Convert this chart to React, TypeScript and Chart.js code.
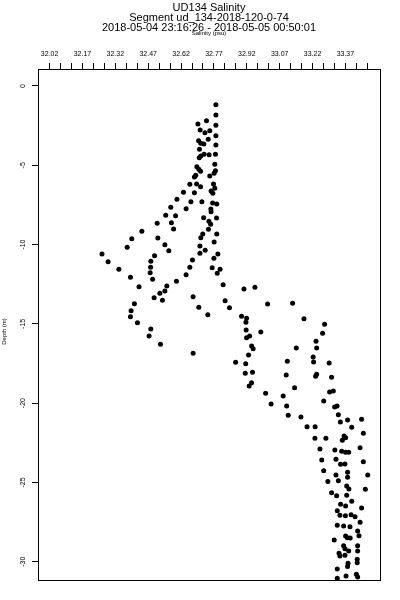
import React, { useEffect, useRef } from 'react';
import { Chart, registerables } from 'chart.js';

Chart.register(...registerables);

const TITLE_LINES = [
  'UD134 Salinity',
  'Segment ud_134-2018-120-0-74',
  '2018-05-04 23:16:26 - 2018-05-05 00:50:01',
];
const X_TITLE = 'Salinity (psu)';
const Y_TITLE = 'Depth (m)';

const X_MIN = 31.967;
const X_MAX = 33.528;
const Y_MIN = -31.154;
const Y_MAX = 1.072;

const X_TICKS = [
  32.02, 32.07, 32.12, 32.17, 32.22, 32.27, 32.32, 32.37, 32.42, 32.47,
  32.52, 32.57, 32.62, 32.67, 32.72, 32.77, 32.82, 32.87, 32.92, 32.97,
  33.02, 33.07, 33.12, 33.17, 33.22, 33.27, 33.32, 33.37, 33.42, 33.47,
];
const X_TICK_LABELS = [
  '32.02', '', '', '32.17', '', '', '32.32', '', '', '32.47',
  '', '', '32.62', '', '', '32.77', '', '', '32.92', '',
  '', '33.07', '', '', '33.22', '', '', '33.37', '', '',
];
const Y_TICKS = [0, -5, -10, -15, -20, -25, -30];
const Y_TICK_LABELS = ['0', '-5', '-10', '-15', '-20', '-25', '-30'];

const salinity = [
  32.779, 32.779, 32.736, 32.697, 32.779, 32.707, 32.729, 32.751, 32.779, 32.744,
  32.700, 32.710, 32.724, 32.779, 32.704, 32.725, 32.748, 32.777, 32.703, 32.710,
  32.774, 32.692, 32.701, 32.709, 32.777, 32.771, 32.687, 32.681, 32.751, 32.660,
  32.691, 32.709, 32.768, 32.774, 32.631, 32.681, 32.757, 32.765, 32.601, 32.665,
  32.715, 32.764, 32.783, 32.573, 32.643, 32.756, 32.757, 32.782, 32.550, 32.595,
  32.723, 32.747, 32.755, 32.511, 32.576, 32.586, 32.745, 32.441, 32.395, 32.514,
  32.783, 32.719, 32.710, 32.771, 32.546, 32.564, 32.374, 32.706, 32.730, 32.706,
  32.788, 32.259, 32.287, 32.499, 32.482, 32.672, 32.770,
  32.336, 32.481, 32.660, 32.762, 32.798, 32.479, 32.643, 32.785, 32.389, 32.490,
  32.599, 32.428, 32.555, 32.812, 32.907, 32.523, 32.546, 32.497, 32.535, 32.675,
  32.821, 32.407, 32.701, 32.841, 32.392, 32.742, 32.389, 32.896, 32.919, 32.916,
  32.421, 32.917, 32.482, 32.474, 32.919, 32.526, 32.675, 32.928, 32.869, 32.915, 32.913,
  32.957, 33.015, 33.129, 33.181, 33.275, 32.984, 33.266, 32.933, 33.236, 32.942,
  32.949, 33.146, 33.239, 33.223, 33.225, 33.105, 33.296, 32.946, 33.100, 33.239,
  33.234, 33.307, 32.942, 32.931, 33.138, 33.298, 33.315, 33.006, 33.086, 33.271,
  33.031, 33.102, 33.321, 33.332, 33.109, 33.167, 33.338, 33.380, 33.444,
  33.347, 33.399, 33.195, 33.232, 33.452, 33.231, 33.281, 33.364, 33.371, 33.356,
  33.254, 33.322, 33.353, 33.371, 33.385, 33.437, 33.262, 33.327, 33.348, 33.368,
  33.452, 33.271, 33.327, 33.380, 33.380, 33.472, 33.290, 33.338, 33.376, 33.386,
  33.461, 33.307, 33.330, 33.376, 33.348, 33.371, 33.399, 33.444, 33.333, 33.345,
  33.370, 33.396, 33.414, 33.437, 33.333, 33.362, 33.391, 33.426, 33.371, 33.379,
  33.392, 33.432, 33.319, 33.362, 33.368, 33.426, 33.385, 33.341, 33.345, 33.426,
  33.368, 33.424, 33.424, 33.382, 33.380, 33.333, 33.373, 33.420, 33.426, 33.333,
];

const depth = [
  -1.18, -1.83, -2.19, -2.40, -2.48, -2.77, -2.95, -2.82, -3.13, -3.36,
  -3.45, -3.61, -3.66, -3.72, -3.99, -4.31, -4.33, -4.31, -4.52, -4.41,
  -4.94, -5.09, -5.25, -5.38, -5.34, -5.51, -5.63, -5.74, -5.68, -6.20,
  -6.18, -6.35, -6.18, -6.45, -6.70, -6.73, -6.62, -6.77, -7.15, -7.30,
  -7.30, -7.38, -7.44, -7.65, -7.74, -7.76, -7.93, -8.32, -8.15, -8.18,
  -8.31, -8.53, -8.72, -8.66, -8.62, -9.02, -9.04, -9.16, -9.63, -9.59,
  -9.33, -9.33, -9.57, -9.84, -10.01, -10.39, -10.17, -10.09, -10.36, -10.55,
  -10.59, -10.59, -11.08, -10.70, -11.06, -10.97, -10.87,
  -11.56, -11.43, -11.43, -11.46, -11.56, -11.77, -11.90, -11.81, -12.06, -12.19,
  -12.32, -12.66, -12.61, -12.53, -12.80, -13.07, -12.93, -13.35, -13.51, -13.29,
  -13.54, -13.73, -13.96, -13.98, -14.17, -14.42, -14.55, -14.52, -14.65, -14.90,
  -14.93, -15.39, -15.32, -15.77, -15.87, -16.29, -16.86, -16.96, -17.42, -17.51, -18.12,
  -12.69, -13.75, -13.70, -14.68, -15.03, -15.51, -15.60, -15.77, -16.10, -16.40,
  -16.57, -16.52, -16.52, -17.09, -17.41, -17.36, -17.47, -18.06, -18.23, -18.18,
  -18.31, -18.37, -18.71, -18.92, -19.03, -19.30, -19.23, -19.38, -19.55, -19.87,
  -20.05, -20.18, -20.24, -20.18, -20.77, -20.87, -20.73, -21.06, -21.02,
  -21.19, -21.52, -21.49, -21.49, -21.90, -22.22, -22.22, -22.07, -22.18, -22.34,
  -22.89, -22.96, -23.04, -23.10, -23.10, -22.81, -23.59, -23.54, -23.86, -23.84,
  -23.69, -24.26, -24.53, -24.36, -24.68, -24.53, -24.95, -24.89, -25.23, -25.41,
  -25.43, -25.65, -25.84, -25.81, -26.38, -26.49, -26.19, -26.61, -26.78, -27.07,
  -27.10, -27.04, -27.16, -27.51, -27.70, -27.75, -27.79, -28.06, -28.38, -28.49,
  -28.50, -28.36, -28.63, -28.99, -29.18, -28.99, -29.32, -29.47, -29.64, -29.32,
  -29.60, -29.85, -30.06, -30.10, -30.31, -30.46, -30.90, -30.79, -30.96, -31.05,
];

const SANS = "'Liberation Sans', Arial, Helvetica, sans-serif";
const NARROW = "'Liberation Sans Narrow', 'Liberation Sans', Arial, sans-serif";

const framePlugin = {
  id: 'frame',
  afterDatasetsDraw(chart: any) {
    const { ctx, chartArea } = chart;
    const l = Math.round(chartArea.left) + 0.5;
    const t = Math.round(chartArea.top) + 0.5;
    const r = Math.round(chartArea.right) + 0.5;
    const b = Math.round(chartArea.bottom) + 0.5;
    ctx.save();
    ctx.strokeStyle = '#000';
    ctx.lineWidth = 1;
    ctx.strokeRect(l, t, r - l, b - t);
    ctx.restore();
  },
};

// Draws the y-axis title slightly below the axis middle, as in the reference.
const yTitlePlugin = {
  id: 'yTitle',
  afterDraw(chart: any) {
    const { ctx, chartArea } = chart;
    const cy = (chartArea.top + chartArea.bottom) / 2 + 7;
    ctx.save();
    ctx.translate(4.5, cy);
    ctx.rotate(-Math.PI / 2);
    ctx.fillStyle = '#000';
    ctx.font = `6px ${NARROW}`;
    ctx.textAlign = 'center';
    ctx.textBaseline = 'middle';
    ctx.fillText(Y_TITLE, 0, 0);
    ctx.restore();
  },
};

export default function App() {
  const ref = useRef<HTMLCanvasElement | null>(null);

  useEffect(() => {
    if (!ref.current) return;
    const points = salinity.map((s, i) => ({ x: s, y: depth[i] }));
    const chart = new Chart(ref.current, {
      type: 'scatter',
      data: {
        datasets: [
          {
            label: 'Salinity',
            data: points,
            backgroundColor: '#000',
            borderColor: '#000',
            borderWidth: 0,
            pointRadius: 2.5,
            pointHoverRadius: 2.5,
          },
        ],
      },
      options: {
        animation: false,
        responsive: false,
        devicePixelRatio: 1,
        events: [],
        layout: { padding: { left: 0, right: 20, top: 0, bottom: 20 } },
        plugins: {
          legend: { display: false },
          tooltip: { enabled: false },
          title: {
            display: true,
            text: TITLE_LINES,
            color: '#000',
            fullSize: false,
            font: { family: SANS, size: 11, weight: 'normal', lineHeight: 0.9 },
            padding: { top: 3, bottom: -2 },
          },
        },
        scales: {
          x: {
            type: 'linear',
            position: 'top',
            min: X_MIN,
            max: X_MAX,
            afterBuildTicks: (axis: any) => {
              axis.ticks = X_TICKS.map((v) => ({ value: v }));
            },
            afterFit: (axis: any) => {
              axis.height = 38.3;
            },
            ticks: {
              autoSkip: false,
              maxRotation: 0,
              minRotation: 0,
              padding: 5,
              color: '#000',
              font: { family: NARROW, size: 7 },
              callback: (_v: any, i: number) => X_TICK_LABELS[i],
            },
            grid: {
              display: true,
              drawOnChartArea: false,
              drawTicks: true,
              tickLength: 6,
              color: '#000',
              lineWidth: 1,
            },
            border: { display: false },
            title: {
              display: true,
              text: X_TITLE,
              color: '#000',
              font: { family: NARROW, size: 6, lineHeight: 1 },
              padding: { top: 0, bottom: 0 },
            },
          },
          y: {
            type: 'linear',
            position: 'left',
            min: Y_MIN,
            max: Y_MAX,
            afterBuildTicks: (axis: any) => {
              axis.ticks = Y_TICKS.map((v) => ({ value: v }));
            },
            afterFit: (axis: any) => {
              axis.width = 38;
            },
            ticks: {
              autoSkip: false,
              minRotation: 90,
              maxRotation: 90,
              crossAlign: 'center',
              padding: 4,
              color: '#000',
              font: { family: NARROW, size: 7 },
              callback: (_v: any, i: number) => Y_TICK_LABELS[i],
            },
            grid: {
              display: true,
              drawOnChartArea: false,
              drawTicks: true,
              tickLength: 6,
              color: '#000',
              lineWidth: 1,
            },
            border: { display: false },
            title: { display: false, text: Y_TITLE },
          },
        },
      },
      plugins: [framePlugin, yTitlePlugin],
    } as any);
    return () => chart.destroy();
  }, []);

  return (
    <div style={{ position: 'absolute', left: 0, top: 0, width: 400, height: 600, background: '#fff' }}>
      <canvas ref={ref} width={400} height={600} style={{ display: 'block', width: 400, height: 600 }} />
    </div>
  );
}
